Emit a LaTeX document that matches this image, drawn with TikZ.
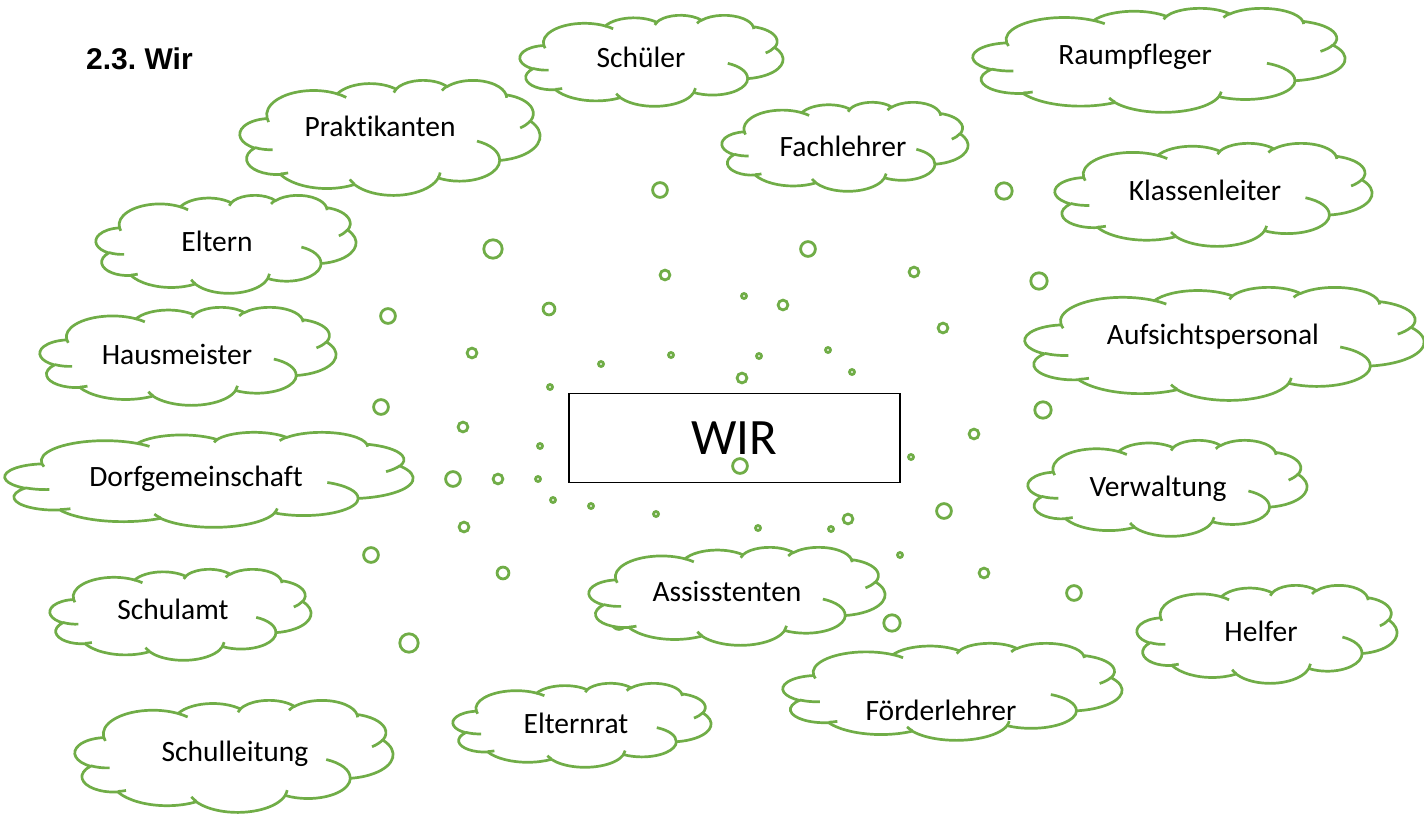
\documentclass[tikz,border=0pt]{standalone}
\usepackage{fontspec}
\setmainfont{Carlito}[Ligatures={NoCommon}]
\newfontfamily\titlefont{Liberation Sans}
\definecolor{cloudgreen}{HTML}{70AD47}

% one elliptic arc given as in the usual office cloud outline:
% radii, visual start angle and sweep (degrees)
\newcommand\cloudarc[4]{%
  \pgfmathsetmacro\cloudta{atan2((#1)*sin(#3),(#2)*cos(#3))}%
  \pgfmathsetmacro\cloudtb{atan2((#1)*sin((#3)+(#4)),(#2)*cos((#3)+(#4)))}%
  \pgfmathsetmacro\cloudte{\cloudta+mod(\cloudtb-\cloudta+720,360)}%
  \pgfpatharc{\cloudta}{\cloudte}{#1pt and #2pt}%
}

% cloud filling the box (x0,y0)--(x1,y1), y measured downwards
\newcommand\wcloud[4]{%
  \begin{scope}[shift={(#1,#2)},xscale={((#3)-(#1))/432},yscale={-((#4)-(#2))/432}]
    \pgfsetlinewidth{2.7pt}\pgfsetstrokecolor{cloudgreen}\pgfsetfillcolor{white}%
    \pgfpathmoveto{\pgfpoint{39pt}{143.7pt}}%
    \cloudarc{67.53}{91.90}{-190.4875}{123.7805}%
    \cloudarc{53.33}{72.67}{-144.1024}{89.9452}%
    \cloudarc{43.65}{59.45}{-145.8079}{99.7230}%
    \cloudarc{48.57}{65.95}{-130.9861}{117.2417}%
    \cloudarc{53.33}{72.73}{-78.7089}{109.0269}%
    \cloudarc{67.75}{92.20}{-46.2673}{130.2690}%
    \cloudarc{57.85}{78.67}{0.6250}{114.0333}%
    \cloudarc{67.52}{92.15}{22.4516}{115.1726}%
    \cloudarc{77.20}{105.43}{66.2426}{75.7110}%
    \cloudarc{43.60}{59.18}{-274.9421}{146.7356}%
    \cloudarc{43.45}{59.45}{-246.8285}{152.5189}%
    \pgfpathclose
    \pgfusepath{fill,stroke}%
    \pgfpathmoveto{\pgfpoint{46.93pt}{261.77pt}}\cloudarc{43.45}{59.45}{86.742}{26.4295}%
    \pgfpathmoveto{\pgfpoint{69.28pt}{348.99pt}}\cloudarc{43.60}{59.18}{73.6105}{11.4475}%
    \pgfpathmoveto{\pgfpoint{164.78pt}{390.90pt}}\cloudarc{67.52}{92.15}{137.6242}{14.0811}%
    \pgfpathmoveto{\pgfpoint{288.27pt}{347.51pt}}\cloudarc{67.52}{92.15}{6.4533}{15.9984}%
    \pgfpathmoveto{\pgfpoint{341.29pt}{229.54pt}}\cloudarc{57.85}{78.67}{-70.2924}{70.9174}%
    \pgfpathmoveto{\pgfpoint{417.98pt}{153.54pt}}\cloudarc{53.33}{72.73}{30.3180}{27.7515}%
    \pgfpathmoveto{\pgfpoint{383.24pt}{54.26pt}}\cloudarc{48.57}{65.95}{-13.7443}{14.8589}%
    \pgfpathmoveto{\pgfpoint{290.78pt}{39.52pt}}\cloudarc{48.57}{65.95}{-149.1815}{18.1954}%
    \pgfpathmoveto{\pgfpoint{221.41pt}{47.20pt}}\cloudarc{43.65}{59.45}{-163.4943}{17.6864}%
    \pgfpathmoveto{\pgfpoint{140.00pt}{51.92pt}}\cloudarc{67.53}{91.90}{-66.7070}{12.3194}%
    \pgfpathmoveto{\pgfpoint{41.27pt}{157.89pt}}\cloudarc{67.53}{91.90}{157.6544}{11.8582}%
    \pgfusepath{stroke}%
  \end{scope}}

\begin{document}
\begin{tikzpicture}[x=1pt,y=-1pt,
  label/.style={anchor=base,inner sep=0pt,font=\fontsize{29.5}{34}\selectfont},
  bubble/.style={draw=cloudgreen,line width=2.8pt}]
\useasboundingbox (0,0) rectangle (1424,816);

\node[anchor=base west,inner sep=0pt,font=\titlefont\bfseries\fontsize{30}{36}\selectfont] (title) at (86,70) {2.3.\ Wir};

% central box
\node[draw=black,line width=1.4pt,minimum width=331pt,minimum height=89pt,inner sep=0pt,
  font=\fontsize{51}{60}\selectfont] (wir) at (734.5,438) {WIR};

% thought bubbles
\foreach \x/\y in {744/296,601/364,671/355,759/356,828/350,852/372,550/387,540/446,538/479,911/457,553/500,591/506,656/514,758/528,831/529,900/555}
  \draw[bubble] (\x,\y) circle[radius=2.5];
\foreach \x/\y in {665/275,914/272,783/305,943/328,472/353,742/378,463/427,974/434,498/479,464/527,848/519,984/573}
  \draw[bubble] (\x,\y) circle[radius=4.9];
\foreach \x/\y in {549/309,503/573}
  \draw[bubble] (\x,\y) circle[radius=5.9];
\foreach \x/\y in {660/190,808/249,388/316,381/407,453/479,740/466,944/511,371/555,1074/593,619/622}
  \draw[bubble] (\x,\y) circle[radius=7.4];
\foreach \x/\y in {1004/191,1039/281,1043/410,892/623}
  \draw[bubble] (\x,\y) circle[radius=8.2];
\foreach \x/\y in {493/249,409/643}
  \draw[bubble] (\x,\y) circle[radius=9.2];

% clouds
\wcloud{520}{15}{783}{106}
\wcloud{973}{8}{1345}{112}
\wcloud{240}{80}{540}{195}
\wcloud{722}{102}{968}{191}
\wcloud{1055}{143}{1372}{246}
\wcloud{96}{195}{356}{293}
\wcloud{1025}{287}{1424}{400}
\wcloud{40}{307}{336}{405}
\wcloud{5}{432}{413}{527}
\wcloud{1028}{440}{1307}{536}
\wcloud{589}{547}{885}{645}
\wcloud{50}{569}{311}{660}
\wcloud{1137}{585}{1397}{683}
\wcloud{783}{643}{1122}{740}
\wcloud{453}{683}{711}{767}
\wcloud{75}{700}{393}{812}

\node[label] (schueler) at (641,67) {Schüler};
\node[label] (raum) at (1135,64) {Raumpfleger};
\node[label] (prakt) at (380,136) {Praktikanten};
\node[label] (fach) at (843,156) {Fachlehrer};
\node[label] (klass) at (1205,200) {Klassenleiter};
\node[label] (eltern) at (217,251) {Eltern};
\node[label] (aufsicht) at (1213,344) {Aufsichtspersonal};
\node[label] (haus) at (177,364) {Hausmeister};
\node[label] (dorf) at (196,486) {Dorfgemeinschaft};
\node[label] (verw) at (1158,496) {Verwaltung};
\node[label] (assist) at (727,601) {Assisstenten};
\node[label] (amt) at (173,619) {Schulamt};
\node[label] (helfer) at (1261,641) {Helfer};
\node[label] (foerder) at (941,720) {Förderlehrer};
\node[label] (elternrat) at (576,733) {Elternrat};
\node[label] (leitung) at (235,761) {Schulleitung};
\end{tikzpicture}
\end{document}
